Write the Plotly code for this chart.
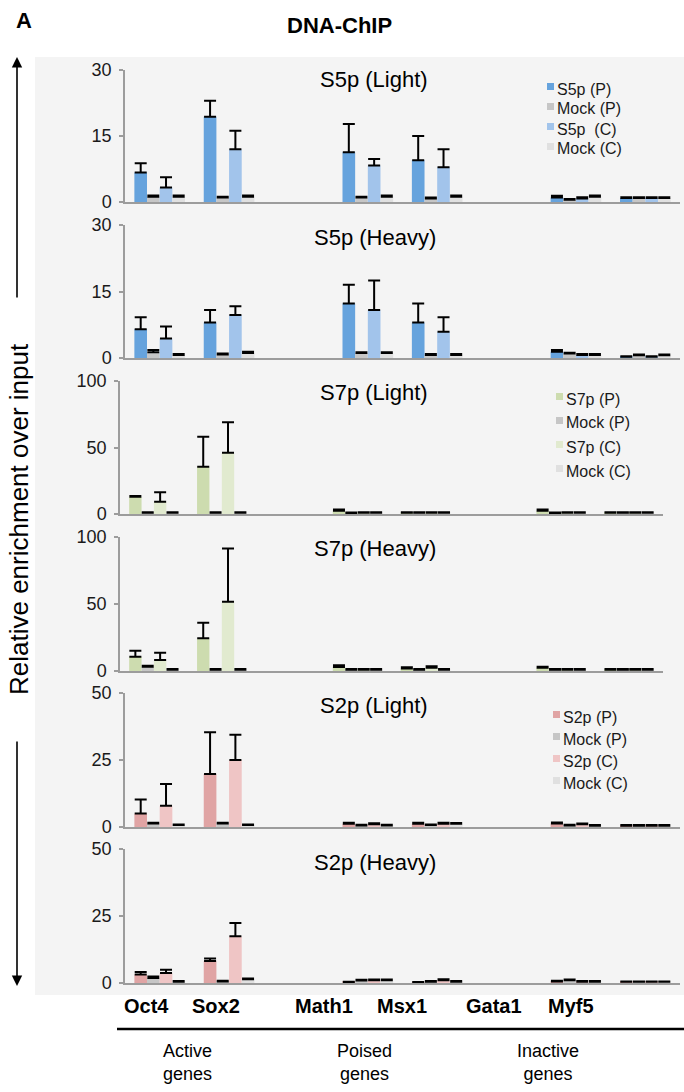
import plotly.graph_objects as go

W, H = 684, 1092

# ---------------- data ----------------
genes = ["Oct4", "Sox2", "Math1", "Msx1", "Gata1", "Myf5"]
category_order = ["Oct4", "Sox2", " ", "Math1", "Msx1", "  ", "Gata1", "Myf5"]
group_labels = ["Active<br>genes", "Poised<br>genes", "Inactive<br>genes"]
panel_titles = ["S5p (Light)", "S5p (Heavy)", "S7p (Light)", "S7p (Heavy)", "S2p (Light)", "S2p (Heavy)"]
y_max = [30, 30, 100, 100, 50, 50]
y_ticks = [[0, 15, 30], [0, 15, 30], [0, 50, 100], [0, 50, 100], [0, 25, 50], [0, 25, 50]]
y_title = "Relative enrichment over input"

names_s5p = ["S5p (P)", "Mock (P)", "S5p  (C)", "Mock (C)"]
names_s7p = ["S7p (P)", "Mock (P)", "S7p (C)", "Mock (C)"]
names_s2p = ["S2p (P)", "Mock (P)", "S2p (C)", "Mock (C)"]

colors_s5p = ["#66a3dd", "#c6c6c6", "#a2c4eb", "#e0e0e0"]
colors_s7p = ["#cddcaf", "#c6c6c6", "#e1eacf", "#e0e0e0"]
colors_s2p = ["#e0a4a4", "#c6c6c6", "#efc5c5", "#e0e0e0"]

# S5p (Light)
s5p_light_P = [6.7, 19.4, 11.3, 9.5, 1.0, 0.9]
s5p_light_P_err = [2.1, 3.6, 6.4, 5.5, 0.4, 0.2]
s5p_light_mockP = [1.2, 1.0, 1.0, 0.8, 0.5, 0.9]
s5p_light_mockP_err = [0.3, 0.2, 0.2, 0.2, 0.2, 0.2]
s5p_light_C = [3.3, 12.0, 8.3, 7.9, 0.8, 0.9]
s5p_light_C_err = [2.3, 4.2, 1.5, 4.1, 0.3, 0.2]
s5p_light_mockC = [1.2, 1.2, 1.2, 1.2, 1.2, 0.9]
s5p_light_mockC_err = [0.3, 0.3, 0.3, 0.3, 0.3, 0.2]

# S5p (Heavy)
s5p_heavy_P = [6.5, 8.0, 12.3, 8.0, 1.4, 0.3]
s5p_heavy_P_err = [2.7, 2.8, 4.2, 4.3, 0.4, 0.1]
s5p_heavy_mockP = [1.3, 0.8, 1.1, 0.7, 1.0, 0.6]
s5p_heavy_mockP_err = [0.5, 0.2, 0.2, 0.2, 0.2, 0.2]
s5p_heavy_C = [4.4, 9.7, 10.8, 5.9, 0.7, 0.3]
s5p_heavy_C_err = [2.7, 2.0, 6.7, 3.3, 0.2, 0.1]
s5p_heavy_mockC = [0.7, 1.1, 1.1, 0.7, 0.7, 0.6]
s5p_heavy_mockC_err = [0.2, 0.3, 0.2, 0.2, 0.2, 0.2]

# S7p (Light)
s7p_light_P = [13.0, 35.6, 2.5, 1.0, 2.5, 1.0]
s7p_light_P_err = [0.6, 22.5, 0.8, 0.4, 0.8, 0.4]
s7p_light_mockP = [1.0, 1.0, 0.8, 0.9, 0.8, 0.9]
s7p_light_mockP_err = [0.4, 0.4, 0.4, 0.4, 0.4, 0.4]
s7p_light_C = [9.3, 46.0, 1.0, 1.0, 1.0, 1.0]
s7p_light_C_err = [7.0, 23.0, 0.4, 0.4, 0.4, 0.4]
s7p_light_mockC = [1.0, 1.0, 0.9, 1.0, 0.9, 1.0]
s7p_light_mockC_err = [0.4, 0.4, 0.4, 0.4, 0.4, 0.4]

# S7p (Heavy)
s7p_heavy_P = [10.7, 24.4, 3.0, 1.8, 2.5, 1.0]
s7p_heavy_P_err = [4.5, 11.6, 1.2, 1.0, 0.6, 0.4]
s7p_heavy_mockP = [3.2, 1.0, 1.0, 1.0, 1.0, 1.0]
s7p_heavy_mockP_err = [0.7, 0.4, 0.4, 0.4, 0.4, 0.4]
s7p_heavy_C = [8.2, 51.7, 1.0, 2.5, 1.0, 1.0]
s7p_heavy_C_err = [5.5, 39.8, 0.4, 1.0, 0.4, 0.4]
s7p_heavy_mockC = [1.0, 1.0, 1.0, 1.0, 1.0, 1.0]
s7p_heavy_mockC_err = [0.4, 0.4, 0.4, 0.4, 0.4, 0.4]

# S2p (Light)
s2p_light_P = [5.0, 19.8, 1.2, 1.2, 1.3, 0.5]
s2p_light_P_err = [5.3, 15.6, 0.4, 0.4, 0.4, 0.2]
s2p_light_mockP = [1.3, 1.3, 0.6, 0.7, 0.6, 0.5]
s2p_light_mockP_err = [0.3, 0.3, 0.2, 0.2, 0.2, 0.2]
s2p_light_C = [7.9, 25.0, 1.0, 1.2, 1.0, 0.5]
s2p_light_C_err = [8.1, 9.4, 0.4, 0.4, 0.3, 0.2]
s2p_light_mockC = [0.7, 0.7, 0.6, 1.2, 0.5, 0.5]
s2p_light_mockC_err = [0.2, 0.2, 0.2, 0.3, 0.2, 0.2]

# S2p (Heavy)
s2p_heavy_P = [3.2, 8.2, 0.4, 0.3, 0.6, 0.5]
s2p_heavy_P_err = [0.9, 0.9, 0.1, 0.1, 0.2, 0.1]
s2p_heavy_mockP = [1.9, 0.6, 0.9, 0.5, 1.0, 0.5]
s2p_heavy_mockP_err = [0.5, 0.2, 0.3, 0.2, 0.3, 0.1]
s2p_heavy_C = [3.7, 17.4, 1.0, 1.0, 0.5, 0.5]
s2p_heavy_C_err = [1.2, 5.0, 0.3, 0.4, 0.2, 0.1]
s2p_heavy_mockC = [0.5, 1.4, 1.0, 0.5, 0.5, 0.5]
s2p_heavy_mockC_err = [0.2, 0.3, 0.3, 0.2, 0.2, 0.1]

panels = [
    (names_s5p, colors_s5p, [(s5p_light_P, s5p_light_P_err), (s5p_light_mockP, s5p_light_mockP_err),
                             (s5p_light_C, s5p_light_C_err), (s5p_light_mockC, s5p_light_mockC_err)]),
    (names_s5p, colors_s5p, [(s5p_heavy_P, s5p_heavy_P_err), (s5p_heavy_mockP, s5p_heavy_mockP_err),
                             (s5p_heavy_C, s5p_heavy_C_err), (s5p_heavy_mockC, s5p_heavy_mockC_err)]),
    (names_s7p, colors_s7p, [(s7p_light_P, s7p_light_P_err), (s7p_light_mockP, s7p_light_mockP_err),
                             (s7p_light_C, s7p_light_C_err), (s7p_light_mockC, s7p_light_mockC_err)]),
    (names_s7p, colors_s7p, [(s7p_heavy_P, s7p_heavy_P_err), (s7p_heavy_mockP, s7p_heavy_mockP_err),
                             (s7p_heavy_C, s7p_heavy_C_err), (s7p_heavy_mockC, s7p_heavy_mockC_err)]),
    (names_s2p, colors_s2p, [(s2p_light_P, s2p_light_P_err), (s2p_light_mockP, s2p_light_mockP_err),
                             (s2p_light_C, s2p_light_C_err), (s2p_light_mockC, s2p_light_mockC_err)]),
    (names_s2p, colors_s2p, [(s2p_heavy_P, s2p_heavy_P_err), (s2p_heavy_mockP, s2p_heavy_mockP_err),
                             (s2p_heavy_C, s2p_heavy_C_err), (s2p_heavy_mockC, s2p_heavy_mockC_err)]),
]

# ---------------- layout helpers (pixel -> paper) ----------------
def fx(x):
    return x / W

def fy(y):
    return 1 - y / H

FONT = "Liberation Sans, Arial, Helvetica, sans-serif"
AXIS_GREY = "#9c9c9c"
BG = "#f4f4f4"

panel_px_y = [(70, 202), (225, 358), (381, 514), (537, 671), (693, 827), (849, 983)]
panel_px_x = [(125, 680), (125, 680), (120, 663), (120, 663), (125, 680), (125, 680)]
title_px = [(374, 80), (375, 237), (374, 392), (375, 548), (374, 705), (375, 862)]

fig = go.Figure()

for i, (names, colors, series) in enumerate(panels):
    ax = "" if i == 0 else str(i + 1)
    for name, color, (vals, errs) in zip(names, colors, series):
        fig.add_trace(go.Bar(
            x=genes, y=vals, name=name, showlegend=False,
            marker=dict(color=color, line=dict(width=0)),
            error_y=dict(type="data", array=errs, arrayminus=[0, 0, 0, 0, 0, 0],
                         symmetric=False, color="black", thickness=2, width=6),
            xaxis="x" + ax, yaxis="y" + ax,
        ))
    y0, y1 = panel_px_y[i]
    x0, x1 = panel_px_x[i]
    fig.layout["xaxis" + ax] = dict(
        domain=[fx(x0), fx(x1)], anchor="y" + ax, type="category",
        categoryorder="array", categoryarray=category_order, range=[-0.5, 7.5],
        showticklabels=False, ticks="", showline=True, linecolor=AXIS_GREY, linewidth=2,
        showgrid=False, zeroline=False, fixedrange=True, automargin=False,
    )
    fig.layout["yaxis" + ax] = dict(
        domain=[fy(y1), fy(y0)], anchor="x" + ax, range=[0, y_max[i]],
        tickvals=y_ticks[i], ticks="outside", ticklen=4, tickcolor=AXIS_GREY, tickwidth=1.5,
        showline=True, linecolor=AXIS_GREY, linewidth=1.5, showgrid=False, zeroline=False,
        tickfont=dict(family=FONT, size=18, color="#1a1a1a"), ticklabelstandoff=4,
        fixedrange=True, automargin=False,
    )

annotations = []
shapes = []

# grey panel background
shapes.append(dict(type="rect", xref="paper", yref="paper", x0=fx(35), x1=1.0,
                   y0=fy(995), y1=fy(57), fillcolor=BG, line=dict(width=0), layer="below"))

# panel titles
for (tx, ty), t in zip(title_px, panel_titles):
    annotations.append(dict(text=t, x=fx(tx), y=fy(ty), xref="paper", yref="paper",
                            showarrow=False, xanchor="center", yanchor="middle",
                            font=dict(family=FONT, size=22, color="black")))

# legends (S5p light, S7p light, S2p light)
legend_specs = [
    (names_s5p, colors_s5p, 547, [89, 109, 129, 149]),
    (names_s7p, colors_s7p, 556, [399, 423, 447, 471]),
    (names_s2p, colors_s2p, 553, [717, 739, 761, 783]),
]
for names, colors, sx, rows in legend_specs:
    for name, color, ry in zip(names, colors, rows):
        shapes.append(dict(type="rect", xref="paper", yref="paper",
                           x0=fx(sx), x1=fx(sx + 7), y0=fy(ry + 1), y1=fy(ry - 6),
                           fillcolor=color, line=dict(width=0)))
        annotations.append(dict(text=name, x=fx(sx + 8), y=fy(ry), xref="paper", yref="paper",
                                showarrow=False, xanchor="left", yanchor="middle",
                                font=dict(family=FONT, size=16, color="#1a1a1a")))

# header texts
annotations.append(dict(text="<b>A</b>", x=fx(14), y=fy(20), xref="paper", yref="paper",
                        showarrow=False, xanchor="left", yanchor="middle",
                        font=dict(family=FONT, size=22, color="black")))
annotations.append(dict(text="<b>DNA-ChIP</b>", x=fx(339), y=fy(25), xref="paper", yref="paper",
                        showarrow=False, xanchor="center", yanchor="middle",
                        font=dict(family=FONT, size=22, color="black")))

# y title
annotations.append(dict(text=y_title, x=fx(19), y=fy(519), xref="paper", yref="paper",
                        showarrow=False, textangle=-90, xanchor="center", yanchor="middle",
                        font=dict(family=FONT, size=26, color="black")))

# arrows
annotations.append(dict(text="", x=fx(17), y=fy(57), xref="paper", yref="paper",
                        showarrow=True, ax=0, ay=242, axref="pixel", ayref="pixel",
                        arrowhead=2, arrowsize=1.3, arrowwidth=1.6, arrowcolor="black"))
annotations.append(dict(text="", x=fx(17), y=fy(986), xref="paper", yref="paper",
                        showarrow=True, ax=0, ay=-246, axref="pixel", ayref="pixel",
                        arrowhead=2, arrowsize=1.3, arrowwidth=1.6, arrowcolor="black"))

# bottom gene labels
gene_label_px = [146, 216, 324, 402, 494, 571]
for g, gx in zip(genes, gene_label_px):
    annotations.append(dict(text="<b>" + g + "</b>", x=fx(gx), y=fy(1006), xref="paper", yref="paper",
                            showarrow=False, xanchor="center", yanchor="middle",
                            font=dict(family=FONT, size=20, color="black")))
shapes.append(dict(type="line", xref="paper", yref="paper", x0=fx(117), x1=1.0,
                   y0=fy(1029), y1=fy(1029), line=dict(color="black", width=2.5)))

group_label_px = [187, 365, 548]
for t, gx in zip(group_labels, group_label_px):
    annotations.append(dict(text=t, x=fx(gx), y=fy(1062), xref="paper", yref="paper",
                            showarrow=False, xanchor="center", yanchor="middle",
                            font=dict(family=FONT, size=18, color="black")))

fig.update_layout(
    width=W, height=H, margin=dict(l=0, r=0, t=0, b=0, autoexpand=False),
    paper_bgcolor="white", plot_bgcolor="rgba(0,0,0,0)",
    barmode="group", bargap=0.27, bargroupgap=0,
    showlegend=False, annotations=annotations, shapes=shapes,
    font=dict(family=FONT),
)

fig.write_html("out.html")
